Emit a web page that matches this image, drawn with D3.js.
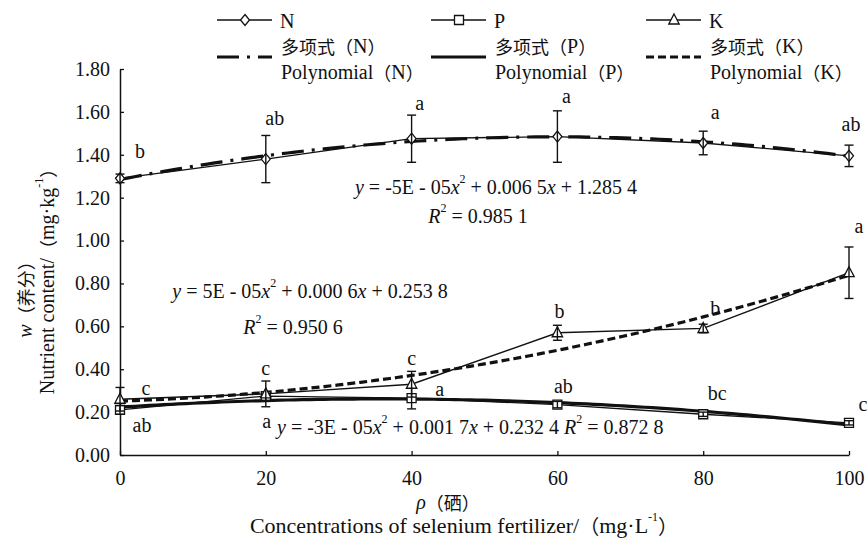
<!DOCTYPE html>
<html>
<head>
<meta charset="utf-8">
<script src="https://cdn.jsdelivr.net/npm/d3@7/dist/d3.min.js"></script>
<style>
  html, body { margin: 0; padding: 0; background: #fff; }
  svg text, svg tspan { font-family: "Liberation Serif", serif; fill: #111; }
  svg tspan.cjk { font-family: "Noto Sans CJK SC", sans-serif; }
</style>
</head>
<body>
<div id="chart"></div>
<script>
// Nutrient content (N, P, K) vs. selenium fertilizer concentration

const concentrations = [0, 20, 40, 60, 80, 100];

const nValues = [1.29, 1.38, 1.475, 1.485, 1.455, 1.395];
const nErrors = [0.02, 0.11, 0.11, 0.12, 0.055, 0.05];
const nLetters = ['b', 'ab', 'a', 'a', 'a', 'ab'];

const pValues = [0.21, 0.275, 0.265, 0.235, 0.19, 0.15];
const pErrors = [0.02, 0.02, 0.05, 0.015, 0.01, 0.01];
const pLetters = ['ab', 'a', 'a', 'ab', 'bc', 'c'];

const kValues = [0.26, 0.285, 0.33, 0.57, 0.59, 0.85];
const kErrors = [0.055, 0.06, 0.06, 0.035, 0.02, 0.12];
const kLetters = ['c', 'c', 'c', 'b', 'b', 'a'];

const yTicks = [0, 0.2, 0.4, 0.6, 0.8, 1.0, 1.2, 1.4, 1.6, 1.8];
const xTicks = [0, 20, 40, 60, 80, 100];

const equationN = ['y', ' = -5E - 05', 'x', '2', ' + 0.006 5', 'x', ' + 1.285 4'];
const r2N = '0.985 1';
const equationK = ['y', ' = 5E - 05', 'x', '2', ' + 0.000 6', 'x', ' + 0.253 8'];
const r2K = '0.950 6';
const equationP = ['y', ' = -3E - 05', 'x', '2', ' + 0.001 7', 'x', ' + 0.232 4 '];
const r2P = '0.872 8';

// layout
const W = 868, H = 538;
const FS = 20;
const SERIF = '"Liberation Serif", serif';
const CJK = '"Noto Sans CJK SC", sans-serif';
const x = d3.scaleLinear().domain([0, 100]).range([120, 849]);
const y = d3.scaleLinear().domain([0, 1.8]).range([455, 69]);

const svg = d3.select('#chart').append('svg').attr('width', W).attr('height', H);

// least-squares quadratic (same as spreadsheet polynomial trendline)
function quadFit(xs, ys) {
  const S = (f) => d3.sum(xs, (v, i) => f(v, ys[i]));
  const s0 = xs.length, s1 = S((a) => a), s2 = S((a) => a * a), s3 = S((a) => a ** 3), s4 = S((a) => a ** 4);
  const t0 = S((a, b) => b), t1 = S((a, b) => a * b), t2 = S((a, b) => a * a * b);
  const M = [[s4, s3, s2, t2], [s3, s2, s1, t1], [s2, s1, s0, t0]];
  for (let i = 0; i < 3; i++) {
    for (let j = i + 1; j < 3; j++) {
      const f = M[j][i] / M[i][i];
      for (let k = i; k < 4; k++) M[j][k] -= f * M[i][k];
    }
  }
  const c = [0, 0, 0];
  for (let i = 2; i >= 0; i--) {
    let s = M[i][3];
    for (let k = i + 1; k < 3; k++) s -= M[i][k] * c[k];
    c[i] = s / M[i][i];
  }
  return (v) => c[0] * v * v + c[1] * v + c[2];
}

const markers = {
  diamond: 'M0,-5.5L4.5,0L0,5.5L-4.5,0Z',
  square: 'M-4.5,-4.5H4.5V4.5H-4.5Z',
  triangle: 'M0,-6L5.2,4L-5.2,4Z',
};

const series = [
  { key: 'N', values: nValues, errors: nErrors, letters: nLetters, marker: 'diamond', dash: '22,8,3,8',
    letterOffsets: [[20, -27], [9, -41], [8, -36], [9, -41], [12, -31], [2, -32]] },
  { key: 'P', values: pValues, errors: pErrors, letters: pLetters, marker: 'square', dash: null,
    letterOffsets: [[22, 15], [1, 25], [28, -9], [6, -19], [14, -21], [14, -19]] },
  { key: 'K', values: kValues, errors: kErrors, letters: kLetters, marker: 'triangle', dash: '8,4',
    letterOffsets: [[26, -11], [0, -26], [0, -26], [2, -22], [12, -20], [10, -47]] },
];

function txt(parent, size = FS) {
  return parent.append('text').style('font-family', SERIF).attr('font-size', size).attr('fill', '#111');
}
function span(t, s, opt = {}) {
  const sp = t.append('tspan').text(s).style('font-family', opt.cjk ? CJK : SERIF);
  if (opt.cjk) sp.attr('font-size', opt.cjkSize || 18);
  if (opt.italic) sp.attr('font-style', 'italic');
  if (opt.sup) sp.attr('font-size', 12).attr('dy', -8);
  if (opt.down) sp.attr('dy', 8);
  return sp;
}

// axes
const yAxis = svg.append('g').attr('transform', `translate(${x(0)},0)`)
  .call(d3.axisLeft(y).tickValues(yTicks).tickFormat(d3.format('.2f')).tickSizeInner(-4).tickSizeOuter(0).tickPadding(10));
const xAxis = svg.append('g').attr('transform', `translate(0,${y(0)})`)
  .call(d3.axisBottom(x).tickValues(xTicks).tickFormat(d3.format('d')).tickSizeInner(-4).tickSizeOuter(0).tickPadding(16));
[xAxis, yAxis].forEach((a) => {
  a.attr('font-family', null);
  a.selectAll('path.domain').attr('stroke', '#111').attr('stroke-width', 1.5);
  a.selectAll('.tick line').attr('stroke', '#111').attr('stroke-width', 1.3);
  a.selectAll('.tick text').attr('font-size', FS).style('font-family', SERIF).attr('fill', '#111');
});

// fitted curves
const curveX = d3.range(0, 100.01, 1);
const line = d3.line().x((d) => x(d[0])).y((d) => y(d[1]));
for (const s of series) {
  const f = quadFit(concentrations, s.values);
  svg.append('path')
    .attr('d', line(curveX.map((v) => [v, f(v)])))
    .attr('fill', 'none').attr('stroke', '#111').attr('stroke-width', 3.2)
    .attr('stroke-dasharray', s.dash);
}

// data lines, markers, error bars, letters
for (const s of series) {
  const pts = concentrations.map((c, i) => [c, s.values[i]]);
  svg.append('path').attr('d', line(pts)).attr('fill', 'none').attr('stroke', '#111').attr('stroke-width', 1.3);
  svg.append('g').selectAll('path').data(pts).join('path')
    .attr('transform', (d) => `translate(${x(d[0])},${y(d[1])})`)
    .attr('d', markers[s.marker]).attr('fill', '#fff').attr('stroke', '#111').attr('stroke-width', 1.3);
  const eb = svg.append('g').attr('stroke', '#111').attr('stroke-width', 1.4);
  concentrations.forEach((c, i) => {
    const cx = x(c), y0 = y(s.values[i] - s.errors[i]), y1 = y(s.values[i] + s.errors[i]);
    eb.append('line').attr('x1', cx).attr('x2', cx).attr('y1', y0).attr('y2', y1);
    eb.append('line').attr('x1', cx - 4.5).attr('x2', cx + 4.5).attr('y1', y0).attr('y2', y0);
    eb.append('line').attr('x1', cx - 4.5).attr('x2', cx + 4.5).attr('y1', y1).attr('y2', y1);
  });
  s.letters.forEach((l, i) => {
    txt(svg)
      .attr('x', x(concentrations[i]) + s.letterOffsets[i][0])
      .attr('y', y(s.values[i]) + s.letterOffsets[i][1])
      .attr('text-anchor', 'middle').attr('dominant-baseline', 'central')
      .text(l);
  });
}

// equations
function equation(parts, r2, px, py, anchor) {
  const t = txt(svg).attr('x', px).attr('y', py).attr('text-anchor', anchor).attr('dominant-baseline', 'central');
  parts.forEach((p, i) => {
    span(t, p, { italic: p === 'x' || p === 'y', sup: p === '2', down: i > 0 && parts[i - 1] === '2' });
  });
  if (r2) {
    span(t, 'R', { italic: true });
    span(t, '2', { sup: true });
    span(t, ' = ' + r2, { down: true });
  }
}
function r2Text(r2, px, py) {
  const t = txt(svg).attr('x', px).attr('y', py).attr('text-anchor', 'middle').attr('dominant-baseline', 'central');
  span(t, 'R', { italic: true });
  span(t, '2', { sup: true });
  span(t, ' = ' + r2, { down: true });
}

equation(equationN, null, 496, 187, 'middle');
r2Text(r2N, 478, 216);
equation(equationK, null, 310, 291, 'middle');
r2Text(r2K, 293, 327);
equation(equationP, r2P, 277, 427, 'start');

// axis titles
const xt = txt(svg).attr('x', 448).attr('y', 502).attr('text-anchor', 'middle').attr('dominant-baseline', 'central');
span(xt, 'ρ', { italic: true });
span(xt, '（硒）', { cjk: true });
const xt2 = txt(svg, 22).attr('x', 464).attr('y', 525).attr('text-anchor', 'middle').attr('dominant-baseline', 'central');
span(xt2, 'Concentrations of selenium fertilizer/');
span(xt2, '（', { cjk: true, cjkSize: 20 });
span(xt2, 'mg·L');
span(xt2, '-1', { sup: true });
span(xt2, '）', { cjk: true, cjkSize: 20, down: true });

const yt = txt(svg).attr('transform', 'translate(25,295) rotate(-90)').attr('text-anchor', 'middle').attr('dominant-baseline', 'central');
span(yt, 'w', { italic: true });
span(yt, '（养分）', { cjk: true });
const yt2 = txt(svg).attr('transform', 'translate(47,277) rotate(-90)').attr('text-anchor', 'middle').attr('dominant-baseline', 'central');
span(yt2, 'Nutrient content/');
span(yt2, '（', { cjk: true });
span(yt2, 'mg·kg');
span(yt2, '-1', { sup: true });
span(yt2, '）', { cjk: true, down: true });

// legend
const legendX = [217, 431, 646];
series.forEach((s, i) => {
  const g = svg.append('g').attr('transform', `translate(${legendX[i]},0)`);
  g.append('line').attr('x1', 0).attr('x2', 55).attr('y1', 20).attr('y2', 20).attr('stroke', '#111').attr('stroke-width', 1.3);
  g.append('path').attr('transform', 'translate(28,20)').attr('d', markers[s.marker])
    .attr('fill', '#fff').attr('stroke', '#111').attr('stroke-width', 1.3);
  txt(g).attr('x', 63).attr('y', 21).attr('dominant-baseline', 'central').text(s.key);
  g.append('line').attr('x1', 0).attr('x2', 55).attr('y1', 57).attr('y2', 57).attr('stroke', '#111')
    .attr('stroke-width', 3.2).attr('stroke-dasharray', s.dash);
  const t1 = txt(g).attr('x', 64).attr('y', 46).attr('dominant-baseline', 'central');
  span(t1, '多项式（', { cjk: true });
  span(t1, s.key);
  span(t1, '）', { cjk: true });
  const t2 = txt(g).attr('x', 64).attr('y', 72).attr('dominant-baseline', 'central');
  span(t2, 'Polynomial');
  span(t2, '（', { cjk: true });
  span(t2, s.key);
  span(t2, '）', { cjk: true });
});
</script>
</body>
</html>
